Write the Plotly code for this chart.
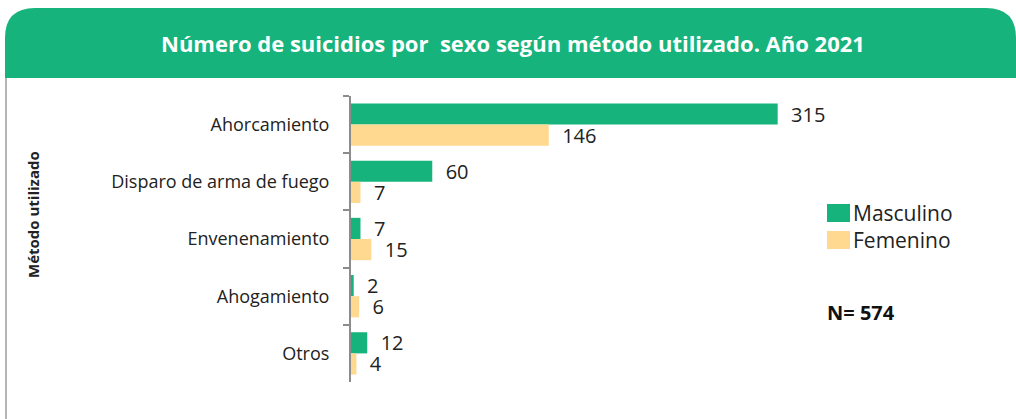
import plotly.graph_objects as go

GREEN = "#16B37D"
YELLOW = "#FFD98F"
TEXT = "#222222"

metodos = ["Ahorcamiento", "Disparo de arma de fuego", "Envenenamiento", "Ahogamiento", "Otros"]
masculino = [315, 60, 7, 2, 12]
femenino = [146, 7, 15, 6, 4]
total_n = 574

# plot area in pixels (1016x419 page)
W, H = 1016, 419
L, R, T, B = 351, 798, 96, 382


def px(x):
    return (x - L) / (R - L)


def py(y):
    return (B - y) / (B - T)


fig = go.Figure()
for name, vals, color in [("Masculino", masculino, GREEN), ("Femenino", femenino, YELLOW)]:
    fig.add_trace(go.Bar(y=metodos, x=vals, name=name, orientation="h",
                         marker=dict(color=color, line=dict(width=0)),
                         text=vals, texttemplate="  %{x}", textposition="outside",
                         constraintext="none",
                         textfont=dict(size=20, color=TEXT), cliponaxis=False))

# header band with rounded top corners
x0, x1, y0, y1 = px(5), px(1016), py(78), py(8)
rx, ry = 30 / (R - L), 30 / (B - T)
header = (f"M {x0},{y0} L {x0},{y1 - ry} Q {x0},{y1} {x0 + rx},{y1} "
          f"L {x1 - rx},{y1} Q {x1},{y1} {x1},{y1 - ry} L {x1},{y0} Z")
shapes = [
    dict(type="path", xref="paper", yref="paper", path=header,
         fillcolor=GREEN, line=dict(width=0), layer="below"),
    dict(type="line", xref="paper", yref="paper", x0=px(6), x1=px(6), y0=py(78), y1=py(425),
         line=dict(color="#B5B5B5", width=2)),
]

annotations = [
    dict(text="<b>Número de suicidios por  sexo según método utilizado. Año 2021</b>",
         xref="paper", yref="paper", x=px(513), y=py(43), xanchor="center", yanchor="middle",
         showarrow=False, font=dict(size=22, color="white", family="Open Sans")),
    dict(text="<b>Método utilizado</b>", xref="paper", yref="paper", x=px(33), y=py(215),
         xanchor="center", yanchor="middle", textangle=-90, showarrow=False,
         font=dict(size=15, color=TEXT)),
    dict(text=f"<b>N= {total_n}</b>", xref="paper", yref="paper",
         x=px(825), y=py(312), xanchor="left", yanchor="middle", showarrow=False,
         font=dict(size=20, color="#111111")),
]

# legend
for i, (name, color) in enumerate([("Masculino", GREEN), ("Femenino", YELLOW)]):
    top = 204 + i * 27
    shapes.append(dict(type="rect", xref="paper", yref="paper",
                       x0=px(827), x1=px(850), y0=py(top + 18), y1=py(top),
                       fillcolor=color, line=dict(width=0)))
    annotations.append(dict(text=name, xref="paper", yref="paper", x=px(851), y=py(top + 9),
                            xanchor="left", yanchor="middle", showarrow=False,
                            font=dict(size=21, color=TEXT)))

fig.update_layout(
    width=W, height=H,
    margin=dict(l=L, r=W - R, t=T, b=H - B, pad=0),
    barmode="group", bargap=0.26, bargroupgap=0,
    showlegend=False,
    paper_bgcolor="white", plot_bgcolor="white",
    font=dict(family="Open Sans", color=TEXT),
    shapes=shapes, annotations=annotations,
)
fig.update_xaxes(range=[0, 330], visible=False, showgrid=False)
fig.update_yaxes(autorange="reversed", showgrid=False, showline=True, linecolor="#8C8C8C",
                 linewidth=2, ticks="outside", tickson="boundaries", ticklen=6,
                 tickcolor="#8C8C8C", tickwidth=2, ticklabelstandoff=16,
                 tickfont=dict(size=18, color=TEXT))

# drop the default body margin so the figure sits at the page corner
fig.write_html("out.html", config={"displayModeBar": False},
               post_script="document.body.style.margin='0';")
